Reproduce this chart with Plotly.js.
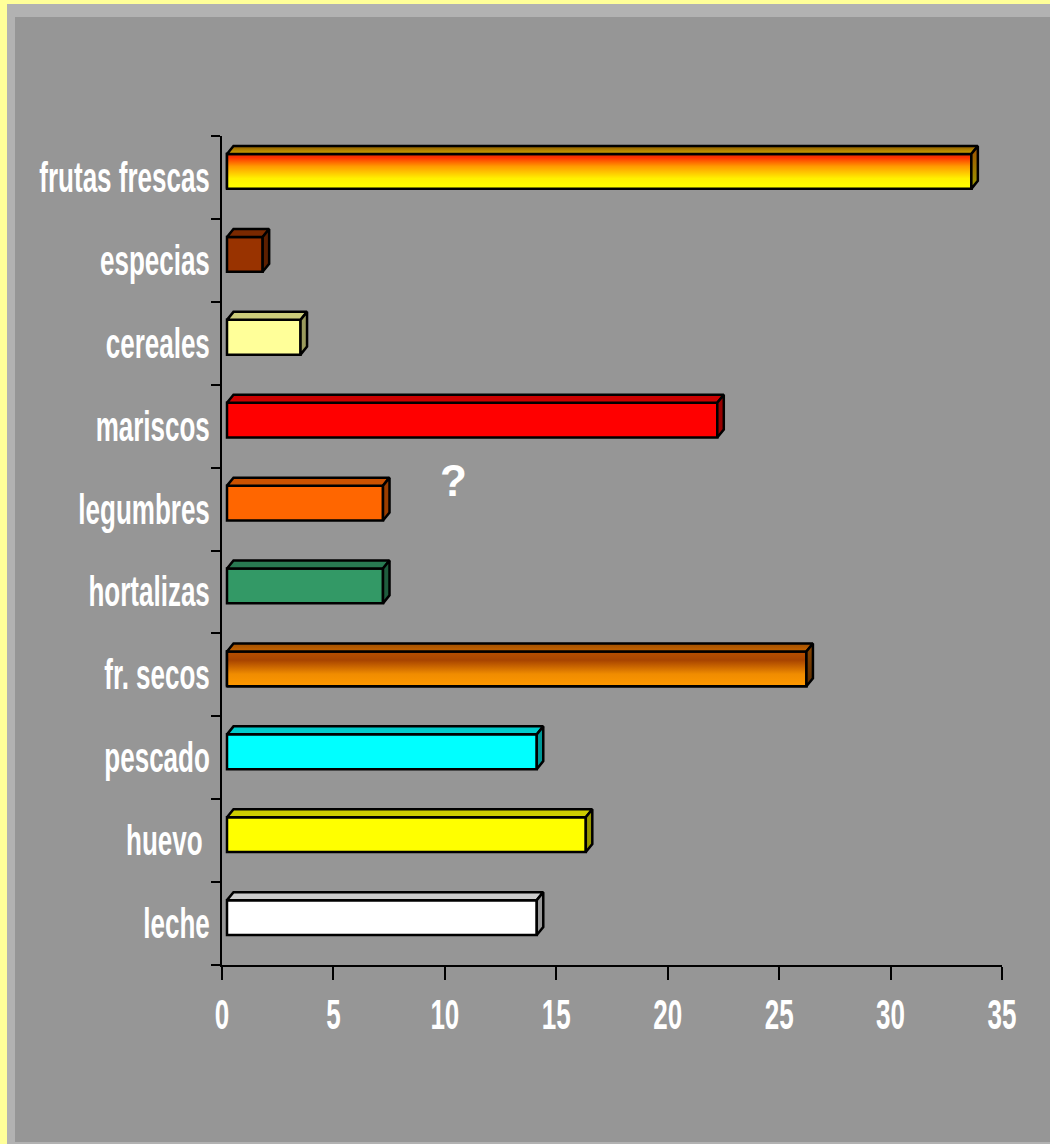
<!DOCTYPE html>
<html>
<head>
<meta charset="utf-8">
<script src="https://cdn.plot.ly/plotly-3.0.1.min.js"></script>
<style>
  html, body { margin: 0; padding: 0; background: #FFFF99; }
  #chart { width: 1050px; height: 1144px; }
</style>
</head>
<body>
<div id="chart"></div>
<script>
// ---------------- data ----------------
const categories = ['leche', 'huevo\u00A0', 'pescado', 'fr. secos', 'hortalizas',
                    'legumbres', 'mariscos', 'cereales', 'especias', 'frutas frescas'];
const values = [13.9, 16.1, 13.9, 26.0, 7.0, 7.0, 22.0, 3.3, 1.6, 33.4];
const barColors = ['#FFFFFF', '#FFFF00', '#00FFFF', '#F08C00', '#339966',
                   '#FF6600', '#FF0000', '#FFFF99', '#993300', '#FFB000'];
const xTickVals = [0, 5, 10, 15, 20, 25, 30, 35];
const xRange = [0, 35];

// ---------------- geometry / style ----------------
const W = 1050, H = 1144;
const plotLeft = 222, plotRight = 1002, plotTop = 136, plotBottom = 965;
const yRange = [-0.5, categories.length - 0.5];
const pxPerX = (plotRight - plotLeft) / (xRange[1] - xRange[0]);
const pxPerY = (plotBottom - plotTop) / (yRange[1] - yRange[0]);
const frontShift = { x: 5, y: 6 };     // px: front plane offset of bars
const depth = { x: 6.5, y: 8 };        // px: 3-D depth of bars
const barWidth = 0.42;
const outline = 2.5;
const dxU = depth.x / pxPerX, dyU = depth.y / pxPerY;
const x2Range = [xRange[0] - frontShift.x / pxPerX, xRange[1] - frontShift.x / pxPerX];
const y2Range = [yRange[0] - frontShift.y / pxPerY, yRange[1] - frontShift.y / pxPerY];

function shade(hex, f) {
  const n = parseInt(hex.slice(1), 16);
  const r = Math.round(((n >> 16) & 255) * f), g = Math.round(((n >> 8) & 255) * f), b = Math.round((n & 255) * f);
  return 'rgb(' + r + ',' + g + ',' + b + ')';
}

// gradient styles for the two shaded bars (by category index)
const gradients = {
  9: { front: [[0, '#FFFF00'], [0.3, '#FFF000'], [0.65, '#FF9900'], [0.9, '#FF3300'], [1, '#DD3300']],
       top:   [[0, '#D4A800'], [1, '#8B5A00']],
       side:  [[0, '#999900'], [1, '#A05000']] },
  3: { front: [[0, '#FF9900'], [0.35, '#F08C00'], [0.75, '#A84400'], [1, '#B85000']],
       top:   [[0, '#C86400'], [1, '#A05000']],
       side:  [[0, '#5C2E00'], [1, '#8B4500']] }
};

const traces = [];
const idx = categories.map((_, i) => i);

// front faces
traces.push({
  type: 'bar', orientation: 'h', x: values, y: idx, width: barWidth,
  xaxis: 'x2', yaxis: 'y2',
  marker: { color: barColors, line: { color: '#000000', width: outline } },
  hoverinfo: 'skip', showlegend: false
});

const h = barWidth / 2;
idx.forEach(i => {
  const v = values[i];
  const g = gradients[i];
  if (g) {
    traces.push({
      type: 'scatter', mode: 'lines', xaxis: 'x2', yaxis: 'y2',
      x: [0, v, v, 0, 0], y: [i - h, i - h, i + h, i + h, i - h],
      fill: 'toself',
      fillgradient: { type: 'vertical', colorscale: g.front, start: i - h, stop: i + h },
      line: { color: '#000000', width: outline }, hoverinfo: 'skip', showlegend: false
    });
  }
  // top face
  const top = {
    type: 'scatter', mode: 'lines', xaxis: 'x2', yaxis: 'y2',
    x: [0, v, v + dxU, dxU, 0],
    y: [i + h, i + h, i + h + dyU, i + h + dyU, i + h],
    fill: 'toself', line: { color: '#000000', width: outline }, hoverinfo: 'skip', showlegend: false
  };
  if (g) top.fillgradient = { type: 'vertical', colorscale: g.top, start: i + h, stop: i + h + dyU };
  else top.fillcolor = shade(barColors[i], 0.8);
  traces.push(top);
  // side face
  const side = {
    type: 'scatter', mode: 'lines', xaxis: 'x2', yaxis: 'y2',
    x: [v, v + dxU, v + dxU, v, v],
    y: [i - h, i - h + dyU, i + h + dyU, i + h, i - h],
    fill: 'toself', line: { color: '#000000', width: outline }, hoverinfo: 'skip', showlegend: false
  };
  if (g) side.fillgradient = { type: 'vertical', colorscale: g.side, start: i - h, stop: i + h + dyU };
  else side.fillcolor = shade(barColors[i], 0.6);
  traces.push(side);
});

// paper-coordinate helpers for the frame
const PX = px => (px - plotLeft) / (plotRight - plotLeft);
const PY = py => (plotBottom - py) / (plotBottom - plotTop);

const labelFont = { family: '"Liberation Sans", Arial, sans-serif',
                    size: 26, color: '#FFFFFF', weight: 'bold' };

const layout = {
  width: W, height: H,
  margin: { l: plotLeft, r: W - plotRight, t: plotTop, b: H - plotBottom, pad: 0 },
  paper_bgcolor: '#FFFF99',
  plot_bgcolor: 'rgba(0,0,0,0)',
  showlegend: false,
  font: labelFont,
  shapes: [
    { type: 'rect', xref: 'paper', yref: 'paper', layer: 'below',
      x0: PX(7), x1: PX(W), y0: PY(H), y1: PY(4), fillcolor: '#B2B2B2', line: { width: 0 } },
    { type: 'rect', xref: 'paper', yref: 'paper', layer: 'below',
      x0: PX(15), x1: PX(W), y0: PY(1142), y1: PY(17), fillcolor: '#969696', line: { width: 0 } }
  ],
  xaxis: {
    range: xRange, tickmode: 'array', tickvals: xTickVals, ticktext: xTickVals.map(String),
    showline: true, linecolor: '#000000', linewidth: 2, mirror: false,
    ticks: 'outside', ticklen: 13, tickwidth: 2, tickcolor: '#000000',
    showgrid: false, zeroline: false, fixedrange: true,
    tickfont: labelFont, ticklabelstandoff: 12
  },
  yaxis: {
    range: yRange, tickmode: 'array', tickvals: idx, ticktext: categories,
    showline: true, linecolor: '#000000', linewidth: 2,
    ticks: '', showgrid: false, zeroline: false, fixedrange: true,
    minor: { tickmode: 'linear', tick0: -0.5, dtick: 1, ticks: 'outside', ticklen: 9,
             tickwidth: 2, tickcolor: '#000000', showgrid: false },
    tickfont: labelFont, ticklabelstandoff: 5
  },
  xaxis2: { overlaying: 'x', range: x2Range, visible: false, fixedrange: true },
  yaxis2: { overlaying: 'y', range: y2Range, visible: false, fixedrange: true },
  annotations: [
    { x: 10.4, y: 5.34, xref: 'x', yref: 'y', text: '?', showarrow: false,
      font: { family: '"Liberation Sans", Arial, sans-serif', size: 44, color: '#FFFFFF', weight: 'bold' } }
  ]
};

// vertical stretch of the axis labels (the original uses tall, condensed lettering)
function stretchLabels(gd, k) {
  gd.querySelectorAll('.xtick text, .ytick text').forEach(t => {
    const orig = t.hasAttribute('data-orig-tf') ? t.getAttribute('data-orig-tf') : (t.getAttribute('transform') || '');
    t.setAttribute('data-orig-tf', orig);
    t.setAttribute('transform', orig);
    const bb = t.getBBox();
    const cx = bb.x + bb.width / 2, cy = bb.y + bb.height / 2;
    t.setAttribute('transform', orig + ' translate(' + cx + ',' + cy + ') scale(1,' + k + ') translate(' + (-cx) + ',' + (-cy) + ')');
  });
}

const gd = document.getElementById('chart');
Plotly.newPlot(gd, traces, layout, { staticPlot: true, displayModeBar: false })
  .then(() => stretchLabels(gd, 1.6));
</script>
</body>
</html>
